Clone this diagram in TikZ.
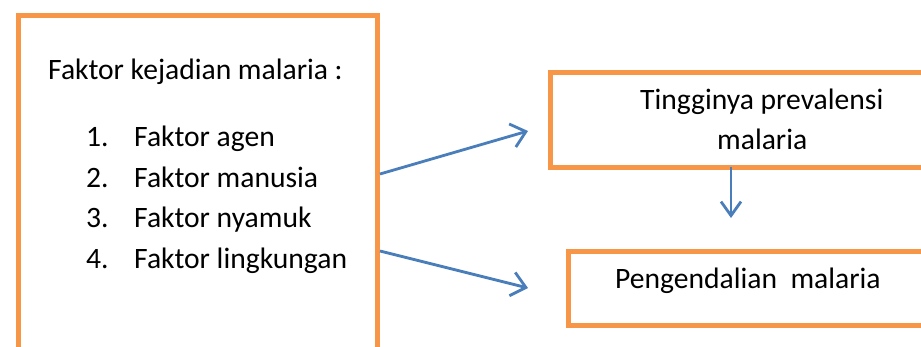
\documentclass[tikz,border=0pt]{standalone}
\usepackage{fontspec}
\setmainfont{Carlito}
\usetikzlibrary{arrows.meta}
\definecolor{boxorange}{HTML}{F79646}
\definecolor{arrowblue}{HTML}{4A7EBB}
\begin{document}
\begin{tikzpicture}[x=1pt,y=-1pt,
  box/.style={draw=boxorange, line width=5pt, inner sep=0pt, fill=white},
  txt/.style={anchor=base west, inner sep=0pt, font=\fontsize{29.6}{35}\selectfont},
  conn/.style={draw=arrowblue, line width=2.8pt, -{Straight Barb[length=14pt,width=24pt]}}]
\useasboundingbox (0,0) rectangle (921,347);
\clip (0,0) rectangle (921,347);
% boxes
\node[box, minimum width=359.5pt, minimum height=400pt, anchor=north west] (lb) at (15.5,13.5) {};
\node[box, minimum width=500pt, minimum height=94.5pt, anchor=north west] (tr) at (547.5,70.5) {};
\node[box, minimum width=500pt, minimum height=74pt, anchor=north west] (br) at (565.5,249.5) {};
% texts
\node[txt] (t0) at (48,80) {Faktor kejadian malaria :};
\node[txt] (n1) at (86,147) {1.};
\node[txt] (l1) at (134,147) {Faktor agen};
\node[txt] (n2) at (86,188) {2.};
\node[txt] (l2) at (134,188) {Faktor manusia};
\node[txt] (n3) at (86,228) {3.};
\node[txt] (l3) at (134,228) {Faktor nyamuk};
\node[txt] (n4) at (86,269) {4.};
\node[txt] (l4) at (134,269) {Faktor lingkungan};
\node[txt] (r1) at (640,110) {Tingginya prevalensi};
\node[txt] (r2) at (717,150) {malaria};
\node[txt] (r3) at (615,289) {Pengendalian\ \ malaria};
% connectors
\coordinate (a1s) at (lb.east |- 0,174);
\coordinate (a1e) at (528,131);
\coordinate (a2s) at (lb.east |- 0,251);
\coordinate (a2e) at (528,288);
\coordinate (a3s) at (731,167);
\coordinate (a3e) at (731,218);
\draw[conn] (a1s) -- (a1e);
\draw[conn] (a2s) -- (a2e);
\draw[conn, -{Straight Barb[length=14pt,width=20pt]}] (a3s) -- (a3e);
\end{tikzpicture}
\end{document}
